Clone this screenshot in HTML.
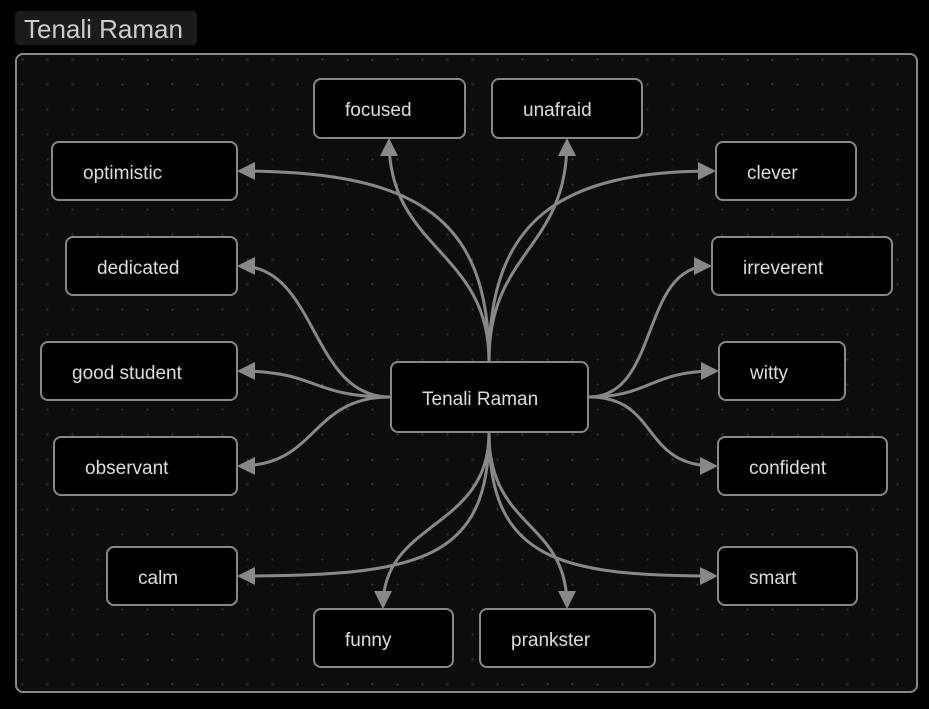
<!DOCTYPE html>
<html><head><style>
body{margin:0;background:#000;width:929px;height:709px;overflow:hidden;font-family:"Liberation Sans",sans-serif;}
.title{position:absolute;left:15px;top:11px;width:182px;height:34px;background:#1b1b1b;border-radius:4px;color:#ccc;font-size:26px;line-height:36px;padding-left:9px;box-sizing:border-box;}
.box{position:absolute;left:15px;top:53px;width:903px;height:640px;border:2px solid #888;border-radius:8px;box-sizing:border-box;background-color:#0d0d0d;background-image:radial-gradient(circle,#3a3a3a 1px,transparent 1.2px);background-size:25px 25px;background-position:-7px -8px;}
.n{position:absolute;background:#000;border:2px solid #888;border-radius:8px;box-sizing:border-box;color:#ddd;font-size:19px;display:flex;align-items:center;padding-left:30px;padding-top:5px;}
svg{position:absolute;left:0;top:0;}
</style></head><body>
<div class="title">Tenali Raman</div>
<div class="box"></div>
<svg width="929" height="709">
<defs><marker id="a" markerWidth="6" markerHeight="6" refX="5" refY="3" orient="auto" markerUnits="strokeWidth"><path d="M0,0 L6,3 L0,6 z" fill="#888"/></marker></defs>
<g stroke="#888" stroke-width="3" fill="none" marker-end="url(#a)">
<path d="M489 361 C489 250 389 250 389 141"/>
<path d="M489 361 C489 250 567 250 567 141"/>
<path d="M489 361 C489 220 420 171 240 171"/>
<path d="M489 361 C489 220 560 171 713 171"/>
<path d="M390 397 C310 397 318 266 240 266"/>
<path d="M390 397 C310 397 318 371 240 371"/>
<path d="M390 397 C310 397 318 466 240 466"/>
<path d="M589 397 C660 397 640 266 709 266"/>
<path d="M589 397 C650 397 650 371 716 371"/>
<path d="M589 397 C660 397 640 466 715 466"/>
<path d="M489 433 C489 560 420 576 240 576"/>
<path d="M489 433 C489 560 560 576 715 576"/>
<path d="M489 433 C489 530 383 520 383 606"/>
<path d="M489 433 C489 530 567 520 567 606"/>
</g></svg>
<div class="n" style="left:390px;top:361px;width:199px;height:72px">Tenali Raman</div>
<div class="n" style="left:313px;top:78px;width:153px;height:61px">focused</div>
<div class="n" style="left:491px;top:78px;width:152px;height:61px">unafraid</div>
<div class="n" style="left:51px;top:141px;width:187px;height:60px">optimistic</div>
<div class="n" style="left:715px;top:141px;width:142px;height:60px">clever</div>
<div class="n" style="left:65px;top:236px;width:173px;height:60px">dedicated</div>
<div class="n" style="left:711px;top:236px;width:182px;height:60px">irreverent</div>
<div class="n" style="left:40px;top:341px;width:198px;height:60px">good student</div>
<div class="n" style="left:718px;top:341px;width:128px;height:60px">witty</div>
<div class="n" style="left:53px;top:436px;width:185px;height:60px">observant</div>
<div class="n" style="left:717px;top:436px;width:171px;height:60px">confident</div>
<div class="n" style="left:106px;top:546px;width:132px;height:60px">calm</div>
<div class="n" style="left:717px;top:546px;width:141px;height:60px">smart</div>
<div class="n" style="left:313px;top:608px;width:141px;height:60px">funny</div>
<div class="n" style="left:479px;top:608px;width:177px;height:60px">prankster</div>
</body></html>
